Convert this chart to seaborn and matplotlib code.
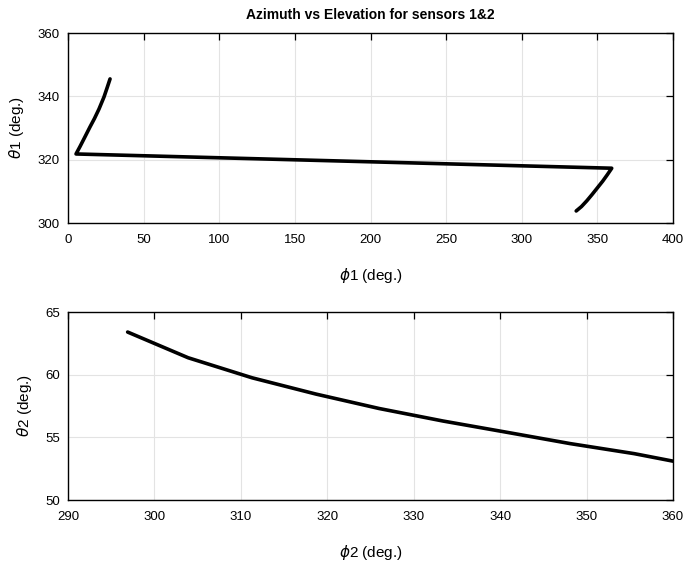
import matplotlib
matplotlib.use("Agg")
import matplotlib.pyplot as plt
import seaborn as sns
import pandas as pd

# Sensor 1 track (azimuth phi1, elevation theta1), in degrees
phi1 = [27.8, 26.0, 23.8, 20.5, 17.5, 14.5, 11.0, 8.0, 5.3,
        359.5, 356.5, 353.5, 350.0, 346.5, 343.0, 339.5, 336.0]
theta1 = [345.5, 342.9, 339.8, 336.0, 333.0, 330.3, 327.0, 324.2, 321.8,
          317.3, 315.2, 313.2, 311.1, 309.0, 307.0, 305.2, 303.8]

# Sensor 2 track (azimuth phi2, elevation theta2), in degrees
phi2 = [296.9, 303.9, 311.3, 318.7, 326.0, 333.4, 340.8, 348.1, 355.5, 360.0]
theta2 = [63.4, 61.35, 59.75, 58.45, 57.3, 56.3, 55.4, 54.5, 53.7, 53.1]

sns.set_theme(style="whitegrid")
plt.rcParams["font.family"] = ["Liberation Sans", "DejaVu Sans"]
plt.rcParams["mathtext.fontset"] = "dejavusans"
plt.rcParams["text.color"] = "black"
plt.rcParams["axes.labelcolor"] = "black"

W, H = 686, 566
fig = plt.figure(figsize=(W / 100, H / 100), dpi=100)
fig.patch.set_facecolor("white")

ax1 = fig.add_axes([68 / W, 1 - 223 / H, 605 / W, 190 / H])
ax2 = fig.add_axes([68 / W, 1 - 500 / H, 605 / W, 188 / H])

df1 = pd.DataFrame({"phi": phi1, "theta": theta1})
df2 = pd.DataFrame({"phi": phi2, "theta": theta2})

sns.lineplot(data=df1, x="phi", y="theta", sort=False, estimator=None,
             color="black", linewidth=2.6, ax=ax1)
sns.lineplot(data=df2, x="phi", y="theta", sort=False, estimator=None,
             color="black", linewidth=2.6, ax=ax2)


def style(ax, xlim, ylim, xticks, yticks, xlabel, ylabel):
    ax.set_xlim(*xlim)
    ax.set_ylim(*ylim)
    ax.set_xticks(xticks)
    ax.set_yticks(yticks)
    ax.set_facecolor("white")
    ax.grid(True, color="#e3e3e3", linewidth=0.8)
    for sp in ax.spines.values():
        sp.set_color("black")
        sp.set_linewidth(1.0)
    ax.tick_params(direction="in", length=5, width=0.9, colors="black",
                   labelcolor="black", labelsize=9.5, top=True, right=True, pad=6)
    ax.tick_params(axis="x", pad=8)
    ax.set_xlabel(xlabel, fontsize=11, labelpad=14, color="black")
    ax.set_ylabel(ylabel, fontsize=11, labelpad=8, color="black")


style(ax1, (0, 400), (300, 360), range(0, 401, 50), range(300, 361, 20),
      r"$\phi$1 (deg.)", r"$\theta$1 (deg.)")
style(ax2, (290, 360), (50, 65), range(290, 361, 10), range(50, 66, 5),
      r"$\phi$2 (deg.)", r"$\theta$2 (deg.)")

ax1.set_title("Azimuth vs Elevation for sensors 1&2", fontsize=10,
              fontweight="bold", pad=10, color="black")

fig.savefig("out.png", dpi=100)
